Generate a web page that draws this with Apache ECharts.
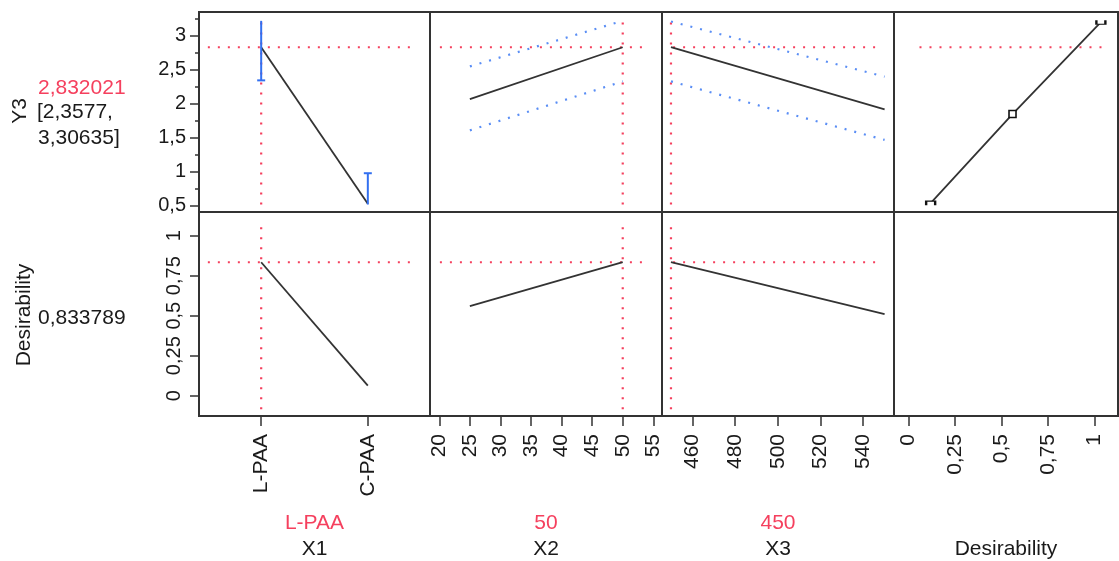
<!DOCTYPE html>
<html>
<head>
<meta charset="utf-8">
<script src="https://cdn.jsdelivr.net/npm/echarts@6/dist/echarts.min.js"></script>
<style>
  html, body { margin: 0; padding: 0; background: #fff; }
  #chart { width: 1119px; height: 561px; }
</style>
</head>
<body>
<div id="chart"></div>
<script>
var factorNames = ['X1', 'X2', 'X3', 'Desirability'];
var factorNow = ['L-PAA', '50', '450', ''];
var x1Levels = ['L-PAA', 'C-PAA'];
var x1Pos = [0, 1];
var x2Pos = [25, 50];
var x3Pos = [450, 550];

var y3Now = 2.832021;
var y3Text = ['2,832021', '[2,3577,', '3,30635]'];
var desNow = 0.833789;
var desText = '0,833789';

// Y3 traces
var y3ByX1 = [2.832, 0.53];
var y3ByX2 = [2.07, 2.832];
var y3UpX2 = [2.55, 3.22];
var y3LoX2 = [1.61, 2.33];
var y3ByX3 = [2.832, 1.92];
var y3UpX3 = [3.21, 2.40];
var y3LoX3 = [2.33, 1.47];
// error bars for X1 levels: [level, low, high, capLow, capHigh]
var x1Bars = [[0, 2.345, 3.22, 1, 0], [1, 0.52, 0.98, 0, 1]];

// desirability function of Y3
var desCurveD = [0.12, 0.56, 1.035];
var desCurveY = [0.54, 1.85, 3.2];

// desirability traces
var desByX1 = [0.834, 0.0625];
var desByX2 = [0.56, 0.834];
var desByX3 = [0.834, 0.509];

// crosshair extents
var y3Span = [0.52, 3.22];
var desSpan = [-0.085, 1.065];
var xSpans = [[-0.5, 1.44], [20.1, 53.9], [451, 547.8], [0.06, 1.05]];

// tick values
var y3Ticks = [0.5, 1, 1.5, 2, 2.5, 3];
var y3Minor = [0.75, 1.25, 1.75, 2.25, 2.75, 3.25];
var desTicks = [0, 0.25, 0.5, 0.75, 1];
var xTicks = [[0, 1], [20, 25, 30, 35, 40, 45, 50, 55], [460, 480, 500, 520, 540], [0, 0.25, 0.5, 0.75, 1]];

// ---- layout ----
var colLeft = [199, 430, 662, 894];
var colW = [231, 232, 232, 224];
var rowTop = [12, 212];
var rowH = [200, 204];
var xRanges = [[-0.583, 1.583], [18.48, 56.42], [445.8, 554.4], [-0.077, 1.127]];
var yRanges = [[0.41, 3.35], [-0.127, 1.148]];

var FONT = 'Liberation Sans, Arial, sans-serif';
var INK = '#333';
var TXT = '#1a1a1a';
var RED = '#f5405e';
var BLUE = '#3370f0';
var BLUE_CI = '#5a8ef5';

function comma(v) { return String(v).replace('.', ','); }
function zip(xs, ys) { return xs.map(function (x, i) { return [x, ys[i]]; }); }

var grids = [], xAxes = [], yAxes = [], series = [];

for (var r = 0; r < 2; r++) {
  for (var c = 0; c < 4; c++) {
    var gi = r * 4 + c;
    grids.push({
      left: colLeft[c], top: rowTop[r], width: colW[c], height: rowH[r],
      show: true, borderColor: INK, borderWidth: 2, backgroundColor: 'transparent'
    });
    xAxes.push({
      gridIndex: gi, type: 'value', min: xRanges[c][0], max: xRanges[c][1],
      show: r === 1, position: 'bottom',
      axisLine: { show: false, onZero: false },
      splitLine: { show: false },
      axisTick: { show: true, length: 10, customValues: xTicks[c], lineStyle: { color: INK, width: 1.5 } },
      axisLabel: {
        customValues: xTicks[c], rotate: 90, margin: 18, color: TXT,
        fontFamily: FONT, fontSize: 21,
        formatter: c === 0 ? function (v) { return x1Levels[Math.round(v)]; } : comma
      }
    });
    var yt = r === 0 ? y3Ticks : desTicks;
    yAxes.push({
      gridIndex: gi, type: 'value', min: yRanges[r][0], max: yRanges[r][1],
      show: c === 0, position: 'left',
      axisLine: { show: false, onZero: false },
      splitLine: { show: false },
      axisTick: { show: true, length: 9, customValues: yt, lineStyle: { color: INK, width: 1.5 } },
      axisLabel: {
        customValues: yt, color: TXT, fontFamily: FONT, fontSize: 20,
        margin: r === 0 ? 13 : 15, rotate: r === 0 ? 0 : 90,
        formatter: comma
      }
    });
  }
}
// overlay grid for the minor ticks of the Y3 axis
grids.push({ left: colLeft[0], top: rowTop[0], width: colW[0], height: rowH[0], show: false });
xAxes.push({ gridIndex: 8, type: 'value', min: xRanges[0][0], max: xRanges[0][1], show: false });
yAxes.push({
  gridIndex: 8, type: 'value', min: yRanges[0][0], max: yRanges[0][1], position: 'left',
  axisLine: { show: false, onZero: false }, splitLine: { show: false },
  axisTick: { show: true, length: 4, customValues: y3Minor, lineStyle: { color: INK, width: 1.5 } },
  axisLabel: { show: false }
});

function line(gi, data, color, dotted, z) {
  series.push({
    type: 'line', xAxisIndex: gi, yAxisIndex: gi, data: data,
    showSymbol: false, silent: true, z: z || 3,
    lineStyle: dotted ? { color: color, width: 2.2, type: [2, 8], cap: 'butt' } : { color: color, width: 1.8 }
  });
}

var nowX = [x1Pos[0], 50, 450];
var spansY = [y3Span, desSpan];
var nowY = [y3Now, desNow];

// crosshairs
for (var r2 = 0; r2 < 2; r2++) {
  for (var c2 = 0; c2 < 4; c2++) {
    var g = r2 * 4 + c2;
    if (r2 === 1 && c2 === 3) continue;
    line(g, [[xSpans[c2][0], nowY[r2]], [xSpans[c2][1], nowY[r2]]], RED, true, 2);
    if (c2 < 3) line(g, [[nowX[c2], spansY[r2][0]], [nowX[c2], spansY[r2][1]]], RED, true, 2);
  }
}

// Y3 row
line(0, zip(x1Pos, y3ByX1), INK);
series.push({
  type: 'custom', xAxisIndex: 0, yAxisIndex: 0, data: x1Bars, silent: true, z: 4,
  renderItem: function (params, api) {
    var x = api.value(0);
    var a = api.coord([x, api.value(1)]);
    var b = api.coord([x, api.value(2)]);
    var st = { stroke: BLUE, lineWidth: 2 };
    var kids = [{ type: 'line', shape: { x1: a[0], y1: a[1], x2: b[0], y2: b[1] }, style: st }];
    if (api.value(3)) kids.push({ type: 'line', shape: { x1: a[0] - 4, y1: a[1], x2: a[0] + 4, y2: a[1] }, style: st });
    if (api.value(4)) kids.push({ type: 'line', shape: { x1: b[0] - 4, y1: b[1], x2: b[0] + 4, y2: b[1] }, style: st });
    return { type: 'group', children: kids };
  }
});
line(1, zip(x2Pos, y3ByX2), INK);
line(1, zip(x2Pos, y3UpX2), BLUE_CI, true);
line(1, zip(x2Pos, y3LoX2), BLUE_CI, true);
line(2, zip(x3Pos, y3ByX3), INK);
line(2, zip(x3Pos, y3UpX3), BLUE_CI, true);
line(2, zip(x3Pos, y3LoX3), BLUE_CI, true);

// desirability function
series.push({
  type: 'line', xAxisIndex: 3, yAxisIndex: 3, silent: true, z: 3,
  data: zip(desCurveD, desCurveY).map(function (p, i) {
    var sym = i === 1 ? 'rect' : (i === 0 ? 'path://M0,6 L0,0 L10,0 L10,6' : 'path://M0,0 L0,6 L10,6 L10,0');
    var size = i === 1 ? 7 : [9, 4];
    return { value: p, symbol: sym, symbolSize: size };
  }),
  showSymbol: true,
  itemStyle: { color: '#fff', borderColor: '#111', borderWidth: 1.6 },
  lineStyle: { color: INK, width: 1.8 }
});

// desirability row
line(4, zip(x1Pos, desByX1), INK);
line(5, zip(x2Pos, desByX2), INK);
line(6, zip(x3Pos, desByX3), INK);

// side and bottom text
var F = '21px ' + FONT;
var graphics = [
  { type: 'text', x: 20, y: 111, rotation: Math.PI / 2, style: { text: 'Y3', font: F, fill: TXT, align: 'center', verticalAlign: 'middle' } },
  { type: 'text', x: 38, y: 88, style: { text: y3Text[0], font: F, fill: RED, align: 'left', verticalAlign: 'middle' } },
  { type: 'text', x: 37, y: 112, style: { text: y3Text[1], font: F, fill: TXT, align: 'left', verticalAlign: 'middle' } },
  { type: 'text', x: 38, y: 138, style: { text: y3Text[2], font: F, fill: TXT, align: 'left', verticalAlign: 'middle' } },
  { type: 'text', x: 24, y: 315, rotation: Math.PI / 2, style: { text: 'Desirability', font: F, fill: TXT, align: 'center', verticalAlign: 'middle' } },
  { type: 'text', x: 38, y: 318, style: { text: desText, font: F, fill: TXT, align: 'left', verticalAlign: 'middle' } }
];
for (var k = 0; k < 4; k++) {
  var cx = colLeft[k] + colW[k] / 2;
  if (factorNow[k]) graphics.push({ type: 'text', x: cx, y: 523, style: { text: factorNow[k], font: F, fill: RED, align: 'center', verticalAlign: 'middle' } });
  graphics.push({ type: 'text', x: cx, y: 549, style: { text: factorNames[k], font: F, fill: TXT, align: 'center', verticalAlign: 'middle' } });
}

var chart = echarts.init(document.getElementById('chart'));
chart.setOption({
  animation: false,
  backgroundColor: '#fff',
  grid: grids,
  xAxis: xAxes,
  yAxis: yAxes,
  series: series,
  graphic: graphics
});
</script>
</body>
</html>
